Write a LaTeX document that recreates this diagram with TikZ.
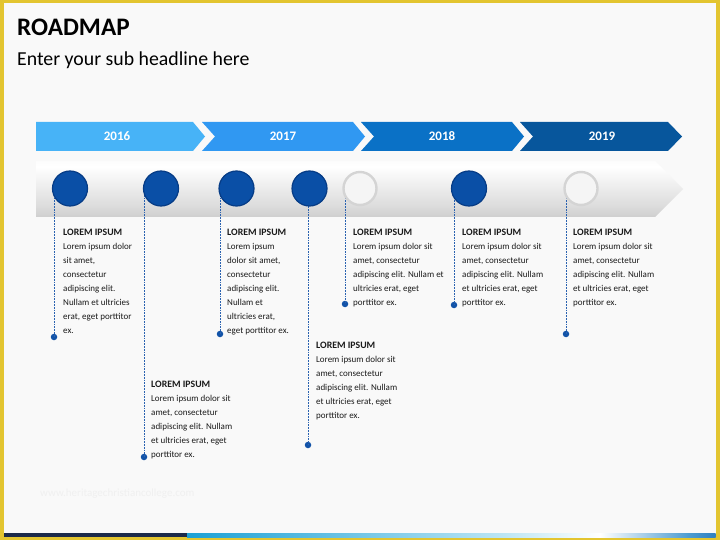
\documentclass[tikz,border=0pt]{standalone}
\usepackage{fontspec}
\setmainfont{Carlito}
\definecolor{frameyellow}{HTML}{E3C530}
\definecolor{bgcol}{HTML}{F9F9F9}
\definecolor{yrA}{HTML}{47B3F7}
\definecolor{yrB}{HTML}{3098F2}
\definecolor{yrC}{HTML}{0A71C6}
\definecolor{yrD}{HTML}{07569C}
\definecolor{bandtop}{HTML}{EFEFEF}
\definecolor{bandmid}{HTML}{DCDCDC}
\definecolor{bandbot}{HTML}{AFAFAF}
\definecolor{circblue}{HTML}{0A4FA6}
\definecolor{circrim}{HTML}{063C86}
\definecolor{dashblue}{HTML}{2A62B0}
\definecolor{dotblue}{HTML}{1253A8}
\definecolor{textcol}{HTML}{1A1A1A}
\definecolor{navy}{HTML}{1B2A4A}
\definecolor{stripA}{HTML}{1BA0D5}
\definecolor{stripB}{HTML}{BDE6F5}
\definecolor{stripC}{HTML}{4A9AD0}
\definecolor{stripD}{HTML}{2F7FC0}
\definecolor{wmark}{HTML}{F0F0F0}
\pgfdeclareverticalshading{bandshade}{100bp}{color(0bp)=(bandbot); color(35bp)=(bandmid); color(70bp)=(white); color(100bp)=(bandtop)}
\tikzset{
  yearlbl/.style={text=white, font=\fontsize{13}{15}\selectfont\bfseries, inner sep=0},
  bluecirc/.style={circle, minimum size=35pt, inner sep=0, fill=circblue, draw=circrim, line width=1.2pt},
  whitecirc/.style={circle, minimum size=33pt, inner sep=0, fill=white!96!black, draw=black!17, line width=2.4pt},
  guide/.style={dashblue, line width=0.9pt, dash pattern=on 1.8pt off 1pt},
  enddot/.style={circle, minimum size=6.5pt, inner sep=0, fill=dotblue},
  infotext/.style={anchor=base west, align=left, inner sep=0, text=textcol, font=\fontsize{9}{14}\selectfont},
}
\newcommand{\blocktitle}{{\fontsize{9.8}{14}\selectfont\bfseries LOREM IPSUM}}
\begin{document}
\begin{tikzpicture}[x=1pt,y=-1pt]
\useasboundingbox (0,0) rectangle (720,540);
% frame and background
\fill[frameyellow] (0,0) rectangle (720,540);
\fill[bgcol] (3.5,3.5) rectangle (715.5,537);
% titles
\node[anchor=base west, inner sep=0, font=\fontsize{25.2}{28}\selectfont\bfseries, text=black] (title) at (17,36) {ROADMAP};
\node[anchor=base west, inner sep=0, font=\fontsize{19.8}{23}\selectfont, text=black] (sub) at (17,65.7) {Enter your sub headline here};
% year chevrons
\fill[yrA] (36,122) -- (193,122) -- (205,136.5) -- (193,151) -- (36,151) -- cycle;
\fill[yrB] (202,122) -- (353,122) -- (365,136.5) -- (353,151) -- (202,151) -- (215,136.5) -- cycle;
\fill[yrC] (361,122) -- (512,122) -- (524,136.5) -- (512,151) -- (361,151) -- (374,136.5) -- cycle;
\fill[yrD] (520,122) -- (668,122) -- (682,136.5) -- (668,151) -- (520,151) -- (533,136.5) -- cycle;
\node[yearlbl] (y16) at (117,136.5) {2016};
\node[yearlbl] (y17) at (283,136.5) {2017};
\node[yearlbl] (y18) at (442,136.5) {2018};
\node[yearlbl] (y19) at (602,136.5) {2019};
% grey band
\shade[shading=bandshade] (36,161) -- (655,161) -- (683,189) -- (655,217) -- (36,217) -- cycle;
% end dots
\node[enddot] (d1) at (54,337) {};
\node[enddot] (d2) at (144,457) {};
\node[enddot] (d3) at (220,334) {};
\node[enddot] (d4) at (308,445) {};
\node[enddot] (d5) at (345,304) {};
\node[enddot] (d6) at (454,305) {};
\node[enddot] (d7) at (566,334) {};
% guide anchors
\coordinate (g1) at (54,192);
\coordinate (g2) at (144,192);
\coordinate (g3) at (220,192);
\coordinate (g4) at (308,192);
\coordinate (g5) at (345,192);
\coordinate (g6) at (454,192);
\coordinate (g7) at (566,192);
\draw[guide] (g1) -- (d1.center);
\draw[guide] (g2) -- (d2.center);
\draw[guide] (g3) -- (d3.center);
\draw[guide] (g4) -- (d4.center);
\draw[guide] (g5) -- (d5.center);
\draw[guide] (g6) -- (d6.center);
\draw[guide] (g7) -- (d7.center);
% circles
\node[bluecirc] (c1) at (70,188.5) {};
\node[bluecirc] (c2) at (161,188.5) {};
\node[bluecirc] (c3) at (236.5,188.5) {};
\node[bluecirc] (c4) at (309.5,188.5) {};
\node[whitecirc] (c5) at (360,188.5) {};
\node[bluecirc] (c6) at (469,188.5) {};
\node[whitecirc] (c7) at (581,188.5) {};
% text blocks (anchored at the baseline of their last line)
\node[infotext] (t1) at (63,333) {\blocktitle\\Lorem ipsum dolor\\sit amet,\\consectetur\\adipiscing elit.\\Nullam et ultricies\\erat, eget porttitor\\ex.};
\node[infotext] (t3) at (227,333) {\blocktitle\\Lorem ipsum\\dolor sit amet,\\consectetur\\adipiscing elit.\\Nullam et\\ultricies erat,\\eget porttitor ex.};
\node[infotext] (t5) at (353,305) {\blocktitle\\Lorem ipsum dolor sit\\amet, consectetur\\adipiscing elit. Nullam et\\ultricies erat, eget\\porttitor ex.};
\node[infotext] (t6) at (462,305) {\blocktitle\\Lorem ipsum dolor sit\\amet, consectetur\\adipiscing elit. Nullam\\et ultricies erat, eget\\porttitor ex.};
\node[infotext] (t7) at (573,305) {\blocktitle\\Lorem ipsum dolor sit\\amet, consectetur\\adipiscing elit. Nullam\\et ultricies erat, eget\\porttitor ex.};
\node[infotext] (t2) at (151,457) {\blocktitle\\Lorem ipsum dolor sit\\amet, consectetur\\adipiscing elit. Nullam\\et ultricies erat, eget\\porttitor ex.};
\node[infotext] (t4) at (316,418) {\blocktitle\\Lorem ipsum dolor sit\\amet, consectetur\\adipiscing elit. Nullam\\et ultricies erat, eget\\porttitor ex.};
% watermark
\node[anchor=west, inner sep=0, text=wmark, font=\fontsize{11}{13}\selectfont] (wm) at (40,494) {www.heritagechristiancollege.com};
% bottom strip
\fill[navy] (3.5,533) rectangle (187,537);
\shade[left color=stripA, right color=stripB] (187,533) rectangle (505,537);
\shade[left color=stripB, right color=white] (505,533) rectangle (600,537);
\shade[left color=white, right color=stripC] (600,533) rectangle (690,537);
\shade[left color=stripC, right color=stripD] (690,533) rectangle (715.5,537);
\end{tikzpicture}
\end{document}
